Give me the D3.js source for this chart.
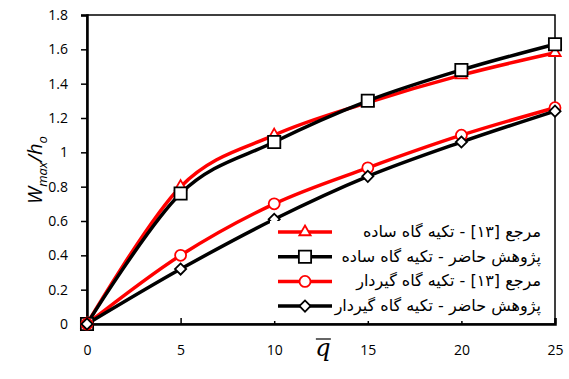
<!DOCTYPE html>
<html>
<head>
<meta charset="utf-8">
<script src="https://cdn.jsdelivr.net/npm/d3@7"></script>
<style>
  body { margin: 0; background: #fff; }
  svg { font-family: "Liberation Sans", "DejaVu Sans", sans-serif; }
</style>
</head>
<body>
<svg id="chart" width="569" height="379"></svg>
<script>
// chart values
var qValues = [0, 5, 10, 15, 20, 25];
var refSimple = [0, 0.80, 1.10, 1.29, 1.45, 1.58];
var presentSimple = [0, 0.76, 1.06, 1.30, 1.48, 1.63];
var refClamped = [0, 0.40, 0.70, 0.91, 1.10, 1.26];
var presentClamped = [0, 0.32, 0.61, 0.86, 1.06, 1.24];
var xTicks = [0, 5, 10, 15, 20, 25];
var yTicks = [0, 0.2, 0.4, 0.6, 0.8, 1, 1.2, 1.4, 1.6, 1.8];
var seriesNames = [
  "مرجع [۱۳] - تکیه گاه ساده",
  "پژوهش حاضر - تکیه گاه ساده",
  "مرجع [۱۳] - تکیه گاه گیردار",
  "پژوهش حاضر - تکیه گاه گیردار"
];

(function () {
  "use strict";

  var left = 87, right = 555, top = 15, bottom = 324;
  var svg = d3.select("#chart");

  var x = d3.scaleLinear().domain([0, 25]).range([left, right]);
  var y = d3.scaleLinear().domain([0, 1.8]).range([bottom, top]);

  var series = [
    {name: seriesNames[0], values: refSimple, color: "#ff0000", marker: "triangle"},
    {name: seriesNames[1], values: presentSimple, color: "#000000", marker: "square"},
    {name: seriesNames[2], values: refClamped, color: "#ff0000", marker: "circle"},
    {name: seriesNames[3], values: presentClamped, color: "#000000", marker: "diamond"}
  ];

  var symbols = {
    triangle: d3.symbol().type(d3.symbolTriangle).size(55),
    square: d3.symbol().type(d3.symbolSquare).size(150),
    circle: d3.symbol().type(d3.symbolCircle).size(95),
    diamond: d3.symbol().type(d3.symbolSquare).size(62)
  };
  var rot = function (m) { return m === "diamond" ? " rotate(45)" : ""; };

  // plot frame
  svg.append("rect")
    .attr("x", left).attr("y", top)
    .attr("width", right - left).attr("height", bottom - top)
    .attr("fill", "none").attr("stroke", "#000").attr("stroke-width", 1.5);

  // y axis (ticks outward)
  var yAxis = svg.append("g")
    .attr("transform", "translate(" + left + ",0)")
    .call(d3.axisLeft(y).tickValues(yTicks).tickSize(6).tickPadding(13)
      .tickFormat(function (d) { return d3.format("")(+d.toFixed(1)); }));
  yAxis.select(".domain").attr("stroke-width", 2.5);
  yAxis.selectAll(".tick line").attr("stroke-width", 1.5);
  yAxis.selectAll("text").attr("font-size", 14).attr("fill", "#000")
    .style("font-family", "'Open Sans', sans-serif");

  // x axis (ticks inward)
  var xAxis = svg.append("g")
    .attr("transform", "translate(0," + bottom + ")")
    .call(d3.axisBottom(x).tickValues(xTicks).tickSize(-6).tickPadding(21));
  xAxis.select(".domain").attr("stroke-width", 2.5);
  xAxis.selectAll(".tick line").attr("stroke-width", 1.5);
  xAxis.selectAll("text").attr("font-size", 14).attr("fill", "#000")
    .style("font-family", "'Open Sans', sans-serif");

  var line = d3.line()
    .x(function (d, i) { return x(qValues[i]); })
    .y(function (d) { return y(d); })
    .curve(d3.curveCatmullRom.alpha(0));

  var plot = svg.append("g");

  series.forEach(function (s) {
    plot.append("path")
      .datum(s.values)
      .attr("d", line)
      .attr("fill", "none")
      .attr("stroke", s.color)
      .attr("stroke-width", 3.5);
  });

  series.forEach(function (s) {
    plot.selectAll(null)
      .data(s.values)
      .enter().append("path")
      .attr("d", symbols[s.marker])
      .attr("transform", function (d, i) {
        return "translate(" + x(qValues[i]) + "," + y(d) + ")" + rot(s.marker);
      })
      .attr("fill", "#fff")
      .attr("stroke", s.color)
      .attr("stroke-width", 1.8);
  });

  // legend
  var legend = svg.append("g");
  legend.append("rect")
    .attr("x", 270).attr("y", 221)
    .attr("width", 283).attr("height", 100)
    .attr("fill", "#fff");

  var item = legend.selectAll("g.item")
    .data(series)
    .enter().append("g")
    .attr("class", "item")
    .attr("transform", function (d, i) {
      return "translate(0," + (232 + i * 24.7) + ")";
    });

  item.append("line")
    .attr("x1", 278).attr("x2", 332)
    .attr("y1", 0).attr("y2", 0)
    .attr("stroke", function (d) { return d.color; })
    .attr("stroke-width", 3.5);

  item.append("path")
    .attr("d", function (d) { return symbols[d.marker](); })
    .attr("transform", function (d) { return "translate(305,0)" + rot(d.marker); })
    .attr("fill", "#fff")
    .attr("stroke", function (d) { return d.color; })
    .attr("stroke-width", 1.8);

  item.append("text")
    .attr("x", 541)
    .attr("y", 5)
    .attr("direction", "rtl")
    .attr("text-anchor", "start")
    .attr("font-size", 16)
    .style("font-family", "'DejaVu Sans', sans-serif")
    .text(function (d) { return d.name; });

  // axis titles
  var yTitle = svg.append("text")
    .attr("transform", "translate(42,170) rotate(-90)")
    .attr("text-anchor", "middle")
    .attr("font-size", 20)
    .attr("font-style", "italic")
    .style("font-family", "'Open Sans', sans-serif");
  yTitle.append("tspan").text("W");
  yTitle.append("tspan").attr("font-size", 13).attr("dy", 5).text("max");
  yTitle.append("tspan").attr("dy", -5).text("/h");
  yTitle.append("tspan").attr("font-size", 13).attr("dy", 5).text("o");

  var qx = x(12.6);
  svg.append("text")
    .attr("x", qx)
    .attr("y", 356)
    .attr("text-anchor", "middle")
    .attr("font-size", 24)
    .attr("font-style", "italic")
    .style("font-family", "'DejaVu Serif', serif")
    .text("q");
  svg.append("line")
    .attr("x1", qx - 7).attr("x2", qx + 8)
    .attr("y1", 339).attr("y2", 339)
    .attr("stroke", "#000").attr("stroke-width", 1.2);
}());
</script>
</body>
</html>
